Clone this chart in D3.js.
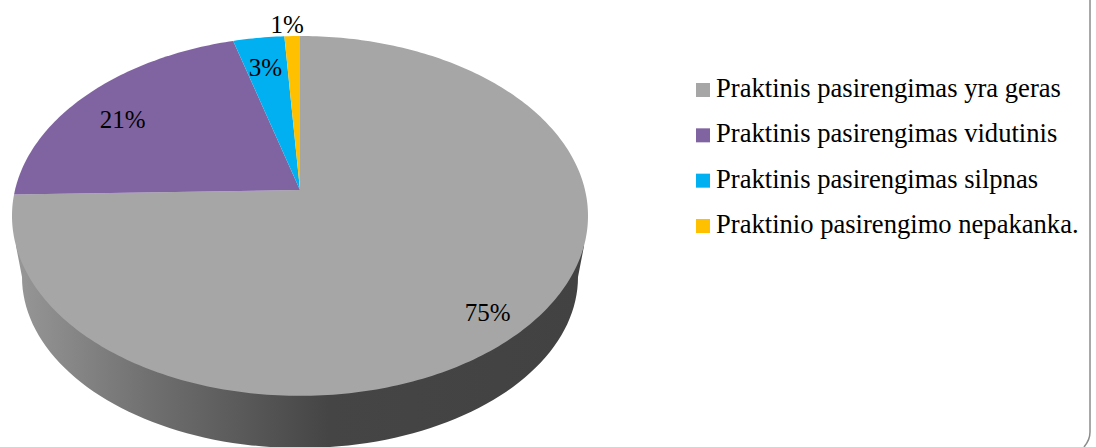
<!DOCTYPE html>
<html><head><meta charset="utf-8">
<script src="https://cdn.jsdelivr.net/npm/d3@7"></script>
<style>html,body{margin:0;padding:0;background:#fff;overflow:hidden}svg{display:block}</style>
</head><body><svg id="c" width="1096" height="447"></svg>
<script>
const categories = ["Praktinis pasirengimas yra geras","Praktinis pasirengimas vidutinis","Praktinis pasirengimas silpnas","Praktinio pasirengimo nepakanka."];
const values = [74.6,21.1,3.3,1.0];
const valueLabels = ["75%","21%","3%","1%"];
const colors = ["#a6a6a6","#8064a2","#00b0f0","#ffc000"];

const font = "'Liberation Serif','Times New Roman',serif";
const svg = d3.select("#c");
const defs = svg.append("defs");
const g = defs.append("linearGradient").attr("id","wall").attr("gradientUnits","userSpaceOnUse")
  .attr("x1",16).attr("x2",584).attr("y1",0).attr("y2",0);
[[0,"#979797"],[0.24,"#6f6f6f"],[0.55,"#454545"],[1,"#424242"]].forEach(([o,c])=>g.append("stop").attr("offset",o).attr("stop-color",c));

// perspective projection of the pie disc
const apex = {x:300,y:190}, A = 285, B = 176.2, K = -0.144;
const proj = (theta,r=1) => {
  const u = r*Math.sin(theta), v = -r*Math.cos(theta), w = 1+K*v;
  return [apex.x + A*u/w, apex.y + B*v/w];
};
const line = d3.line();

// side wall
const low = {cx:300,cy:277,rx:278,ry:171};
const lowPts = d3.range(180,361,2).map(d=>{const t=d*Math.PI/180;return [low.cx+low.rx*Math.cos(t),low.cy-low.ry*Math.sin(t)];});
svg.append("path").attr("fill","url(#wall)")
  .attr("d",line([[16,246],...lowPts,[584,246]])+"Z");

// slices
const pie = d3.pie().value(d=>d).sort(null);
const arcs = pie(values);
arcs.forEach((a,i)=>{
  const n = Math.max(4,Math.ceil((a.endAngle-a.startAngle)*60));
  const pts = d3.range(n+1).map(j=>proj(a.startAngle+(a.endAngle-a.startAngle)*j/n));
  svg.append("path").attr("fill",colors[i]).attr("d",line([[apex.x,apex.y],...pts])+"Z");
});

// value labels
const labelR = [0.78,0.72,0.74,1.0];
const labelOff = [[15,27],[-22,9],[-3,2],[-5,-3]];
arcs.forEach((a,i)=>{
  const p = proj((a.startAngle+a.endAngle)/2,labelR[i]);
  svg.append("text").attr("x",p[0]+labelOff[i][0]).attr("y",p[1]+labelOff[i][1])
    .attr("text-anchor","middle").attr("font-family",font).attr("font-size",25).attr("fill","#000")
    .text(valueLabels[i]);
});

// legend
const ly = d3.scalePoint().domain(categories).range([90,226]);
categories.forEach((c,i)=>{
  svg.append("rect").attr("x",696).attr("y",ly(c)-7).attr("width",14).attr("height",14).attr("fill",colors[i]);
  svg.append("text").attr("x",716).attr("y",ly(c)+7).attr("font-family",font).attr("font-size",26.6).attr("fill","#000").text(c);
});

// frame fragment
svg.append("path").attr("fill","none").attr("stroke","#8c8c8c").attr("stroke-width",1.5)
  .attr("d","M1090,0V432Q1090,440 1084,447");
</script></body></html>
